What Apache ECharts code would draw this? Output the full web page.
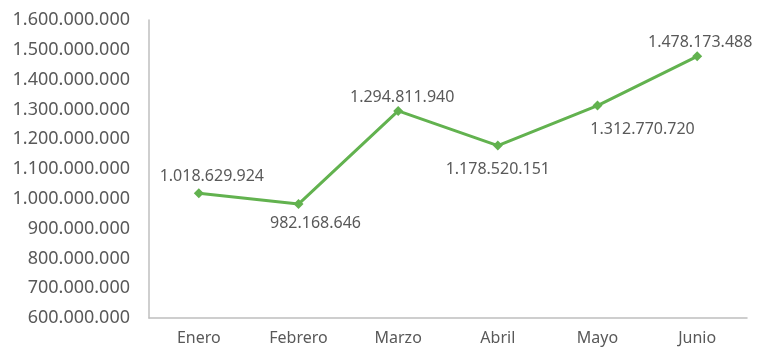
<!DOCTYPE html>
<html><head><meta charset="utf-8">
<script src="https://cdn.jsdelivr.net/npm/echarts@6/dist/echarts.min.js"></script>
<style>html,body{margin:0;padding:0;background:#fff}#c{width:760px;height:352px}</style>
</head><body><div id="c"></div>
<script>
const categories = ['Enero','Febrero','Marzo','Abril','Mayo','Junio'];
const values = [1018629924, 982168646, 1294811940, 1178520151, 1312770720, 1478173488];
const labelPositions = ['top','bottom','top','bottom','bottom','top'];
const labelOffsets = [[13,2],[17,0],[4,5],[0,5],[45,5],[3,5]];

function fmt(v){return String(Math.round(v)).replace(/\B(?=(\d{3})+(?!\d))/g,'.');}
const font = 'Noto Sans';
const chart = echarts.init(document.getElementById('c'));
chart.setOption({
  animation:false,
  grid:{left:149,right:13,top:20,bottom:34},
  xAxis:{type:'category',data:categories,boundaryGap:true,
    axisLine:{lineStyle:{color:'#bfbfbf',width:1.5}},axisTick:{show:false},
    axisLabel:{color:'#595959',fontSize:16,fontFamily:font,margin:12}},
  yAxis:{type:'value',min:600000000,max:1600000000,interval:100000000,
    axisLine:{show:true,lineStyle:{color:'#bfbfbf',width:1.5}},axisTick:{show:false},
    splitLine:{show:false},
    axisLabel:{color:'#595959',fontSize:18,fontFamily:font,margin:19,formatter:fmt}},
  series:[{type:'line',data:values.map((v,i)=>({value:v,label:{position:labelPositions[i],offset:labelOffsets[i]}})),
    lineStyle:{color:'#62b24f',width:3},itemStyle:{color:'#62b24f'},
    symbol:'diamond',symbolSize:10,
    label:{show:true,color:'#595959',fontSize:16,fontFamily:font,distance:6,formatter:p=>fmt(p.value)}}]
});
</script></body></html>
